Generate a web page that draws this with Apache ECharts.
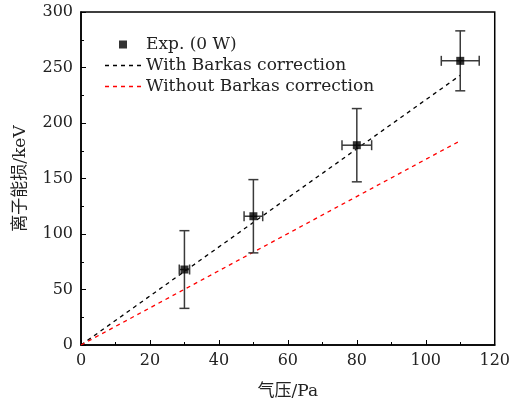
<!DOCTYPE html>
<html lang="zh" style="height: 100%">
<head>
  <meta charset="utf-8">
  <title>离子能损</title>
</head>
<body style="height: 100%; margin: 0; background: #fff">
  <div id="container" style="width: 513px; height: 405px"></div>
  <script type="text/javascript" src="https://cdn.jsdelivr.net/npm/echarts@6/dist/echarts.min.js"></script>
  <script type="text/javascript">
    // 实验点: 气压, 能损, x误差, y误差
    var pressure = [30, 50, 80, 110];
    var energyLoss = [68, 116, 180, 256];
    var xErr = [1.5, 2.7, 4.3, 5.5];
    var yErr = [35, 33, 33, 27];
    // 理论曲线端点
    var withBarkas = [[0, 0], [110, 243]];
    var withoutBarkas = [[0, 0], [110, 184]];

    var font = "'DejaVu Serif', 'Noto Sans CJK SC', serif";
    var dashIcon = 'path://M0,0H4V1.4H0Z M8,0H12V1.4H8Z M16,0H20V1.4H16Z M24,0H28V1.4H24Z M32,0H36V1.4H32Z';
    var dom = document.getElementById('container');
    var myChart = echarts.init(dom, null, { renderer: 'canvas' });

    var expData = pressure.map(function (p, i) { return [p, energyLoss[i]]; });
    var errData = pressure.map(function (p, i) { return [p, energyLoss[i], xErr[i], yErr[i]]; });

    function renderErr(params, api) {
      var x = api.value(0), y = api.value(1), dx = api.value(2), dy = api.value(3);
      var c = api.coord([x, y]);
      var top = api.coord([x, y + dy]), bot = api.coord([x, y - dy]);
      var lft = api.coord([x - dx, y]), rgt = api.coord([x + dx, y]);
      var cap = 5;
      var st = { stroke: '#3a3a3a', lineWidth: 1.5 };
      return {
        type: 'group',
        children: [
          { type: 'line', shape: { x1: top[0], y1: top[1], x2: bot[0], y2: bot[1] }, style: st },
          { type: 'line', shape: { x1: c[0] - cap, y1: top[1], x2: c[0] + cap, y2: top[1] }, style: st },
          { type: 'line', shape: { x1: c[0] - cap, y1: bot[1], x2: c[0] + cap, y2: bot[1] }, style: st },
          { type: 'line', shape: { x1: lft[0], y1: lft[1], x2: rgt[0], y2: rgt[1] }, style: st },
          { type: 'line', shape: { x1: lft[0], y1: c[1] - cap, x2: lft[0], y2: c[1] + cap }, style: st },
          { type: 'line', shape: { x1: rgt[0], y1: c[1] - cap, x2: rgt[0], y2: c[1] + cap }, style: st }
        ]
      };
    }

    var option = {
      animation: false,
      textStyle: { fontFamily: font },
      grid: {
        left: 81, right: 16, top: 12, bottom: 60,
        show: true, borderColor: '#000', borderWidth: 1.5
      },
      legend: {
        left: 100, top: 29,
        orient: 'vertical',
        itemWidth: 36, itemHeight: 8, itemGap: 0,
        textStyle: { fontFamily: font, fontSize: 17, lineHeight: 21, color: '#222' },
        data: [
          { name: 'Exp. (0 W)', icon: 'path://M0,0H10V10H0Z' },
          { name: 'With Barkas correction', icon: dashIcon },
          { name: 'Without Barkas correction', icon: dashIcon }
        ]
      },
      xAxis: {
        type: 'value', min: 0, max: 120, interval: 20,
        name: '气压/Pa', nameLocation: 'middle', nameGap: 38,
        nameTextStyle: { fontFamily: font, fontSize: 17, color: '#222' },
        axisLine: { lineStyle: { color: '#000', width: 1.5 } },
        axisTick: { inside: true, length: 5, lineStyle: { color: '#000' } },
        minorTick: { show: true, splitNumber: 2, length: 3, lineStyle: { color: '#000' } },
        axisLabel: { fontSize: 16, color: '#222', margin: 8 },
        splitLine: { show: false }
      },
      yAxis: {
        type: 'value', min: 0, max: 300, interval: 50,
        name: '离子能损/keV', nameLocation: 'middle', nameGap: 52,
        nameTextStyle: { fontFamily: font, fontSize: 17, color: '#222' },
        axisLine: { show: true, lineStyle: { color: '#000', width: 1.5 } },
        axisTick: { show: true, inside: true, length: 5, lineStyle: { color: '#000' } },
        minorTick: { show: true, splitNumber: 2, length: 3, lineStyle: { color: '#000' } },
        axisLabel: { fontSize: 16, color: '#222', margin: 8 },
        splitLine: { show: false }
      },
      series: [
        {
          name: 'With Barkas correction', type: 'line', data: withBarkas,
          symbol: 'none', z: 2,
          lineStyle: { color: '#000', width: 1.3, type: [4, 4] },
          itemStyle: { color: '#000' }
        },
        {
          name: 'Without Barkas correction', type: 'line', data: withoutBarkas,
          symbol: 'none', z: 2,
          lineStyle: { color: '#f00', width: 1.3, type: [4, 4] },
          itemStyle: { color: '#f00' }
        },
        {
          type: 'custom', data: errData, renderItem: renderErr, z: 3,
          encode: { x: 0, y: 1 }
        },
        {
          name: 'Exp. (0 W)', type: 'scatter', data: expData,
          symbol: 'rect', symbolSize: 8, z: 4,
          itemStyle: { color: '#000' }
        }
      ]
    };
    myChart.setOption(option);
    window.addEventListener('resize', myChart.resize);
  </script>
</body>
</html>
